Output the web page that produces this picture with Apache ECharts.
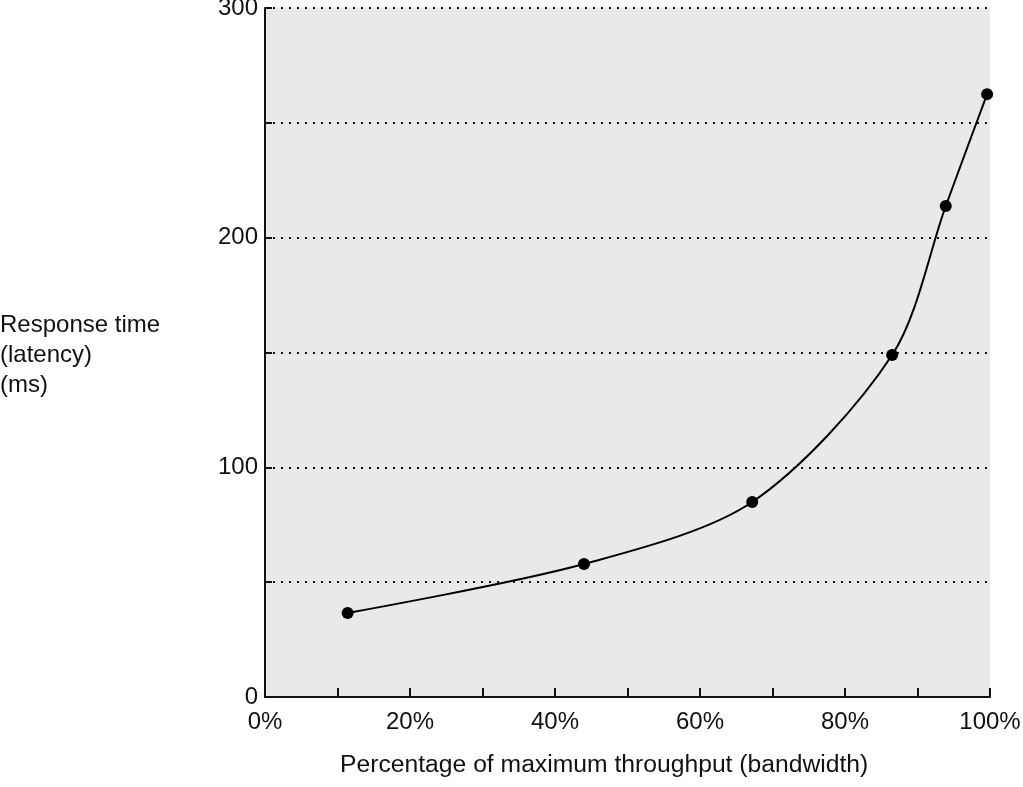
<!DOCTYPE html>
<html>
<head>
<meta charset="utf-8">
<script src="https://cdn.jsdelivr.net/npm/echarts@6/dist/echarts.min.js"></script>
<style>
html,body{margin:0;padding:0;background:#fff;}
#chart{width:1023px;height:787px;}
</style>
</head>
<body>
<div id="chart"></div>
<script>
// Data
var throughputPct = [11.4, 44.0, 67.2, 86.5, 93.9, 99.6];
var latencyMs = [36.6, 57.9, 84.9, 148.9, 213.8, 262.5];
var xTickLabels = ['0%', '20%', '40%', '60%', '80%', '100%'];
var yTickLabels = ['0', '100', '200', '300'];
var xAxisTitle = 'Percentage of maximum throughput (bandwidth)';
var yAxisTitle = 'Response time\n(latency)\n(ms)';

var points = throughputPct.map(function (x, i) { return [x, latencyMs[i]]; });
var font = '"Liberation Sans", Arial, Helvetica, sans-serif';

var chart = echarts.init(document.getElementById('chart'));
chart.setOption({
  animation: false,
  backgroundColor: '#ffffff',
  textStyle: { fontFamily: font },
  grid: {
    left: 265, right: 33, top: 8, bottom: 90,
    outerBoundsMode: 'none',
    containLabel: false,
    show: true, backgroundColor: '#e9e9e9', borderWidth: 0
  },
  graphic: [{
    type: 'text',
    left: 0,
    top: 310,
    style: {
      text: yAxisTitle,
      font: '24px ' + font,
      fill: '#111',
      lineHeight: 30
    }
  }, {
    type: 'text',
    left: 340,
    top: 753,
    style: {
      text: xAxisTitle,
      font: '24.7px ' + font,
      fill: '#111'
    }
  }],
  xAxis: {
    type: 'value',
    min: 0, max: 100, interval: 10,
    axisLine: { show: true, lineStyle: { color: '#111', width: 2 } },
    axisTick: { show: true, inside: true, length: 9, lineStyle: { color: '#111', width: 2 } },
    axisLabel: {
      fontSize: 24, color: '#111', margin: 13, fontFamily: font,
      formatter: function (v) {
        var idx = xTickLabels.indexOf(v + '%');
        return idx >= 0 ? xTickLabels[idx] : '';
      }
    },
    splitLine: { show: false }
  },
  yAxis: {
    type: 'value',
    min: 0, max: 300, interval: 50,
    axisLine: { show: true, lineStyle: { color: '#111', width: 2 } },
    axisTick: { show: true, inside: true, length: 7, lineStyle: { color: '#111', width: 2 } },
    axisLabel: {
      fontSize: 24, color: '#111', margin: 7, fontFamily: font,
      formatter: function (v) {
        var idx = yTickLabels.indexOf(String(v));
        return idx >= 0 ? yTickLabels[idx] : '';
      }
    },
    splitLine: {
      show: true,
      lineStyle: { color: '#111', width: 2, type: [2, 6] }
    }
  },
  series: [{
    type: 'line',
    data: points,
    smooth: 0.3,
    symbol: 'circle',
    symbolSize: 12,
    itemStyle: { color: '#000' },
    lineStyle: { color: '#000', width: 2 }
  }]
});
</script>
</body>
</html>
